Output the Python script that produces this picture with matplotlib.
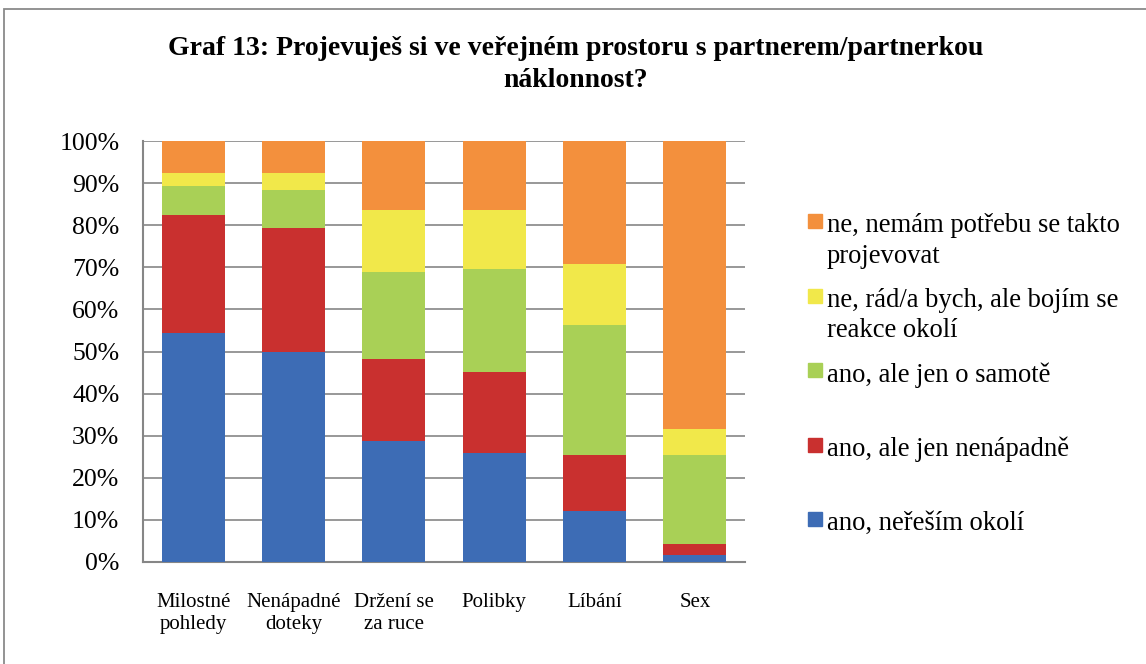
import matplotlib
matplotlib.use("Agg")
import matplotlib.pyplot as plt
from matplotlib.patches import Rectangle
import numpy as np

plt.rcParams['font.family'] = ['Liberation Serif', 'DejaVu Serif']

categories = ["Milostné\npohledy", "Nenápadné\ndoteky", "Držení se\nza ruce",
              "Polibky", "Líbání", "Sex"]
series_names = ["ano, neřeším okolí",
                "ano, ale jen nenápadně",
                "ano, ale jen o samotě",
                "ne, rád/a bych, ale bojím se\nreakce okolí",
                "ne, nemám potřebu se takto\nprojevovat"]
ano_neresim = [54.3, 50.0, 28.8, 25.8, 12.2, 1.7]
ano_nenapadne = [28.2, 29.4, 19.4, 19.3, 13.3, 2.5]
ano_samote = [6.8, 8.9, 20.7, 24.6, 30.7, 21.1]
ne_bojim = [3.0, 4.0, 14.7, 14.0, 14.7, 6.3]
ne_potreba = [7.7, 7.7, 16.4, 16.3, 29.1, 68.4]
series = [ano_neresim, ano_nenapadne, ano_samote, ne_bojim, ne_potreba]
colors = ["#3D6CB5", "#C9302F", "#A9D056", "#F1E84A", "#F3903D"]
yticks = [0, 10, 20, 30, 40, 50, 60, 70, 80, 90, 100]
title = "Graf 13: Projevuješ si ve veřejném prostoru s partnerem/partnerkou\nnáklonnost?"

W, H = 1146, 664
fig = plt.figure(figsize=(W / 100, H / 100), dpi=100)

# outer border
fig.add_artist(Rectangle((4 / W, -0.1), 1.2, (H - 9) / H + 0.1, transform=fig.transFigure,
                         fill=False, edgecolor="#8a8a8a", linewidth=1.3))

ax = fig.add_axes([143 / W, (H - 562) / H, 602 / W, 421 / H])
x = np.arange(len(categories))
bottom = np.zeros(len(categories))
for vals, c in zip(series, colors):
    v = np.array(vals)
    ax.bar(x, v, 0.63, bottom=bottom, color=c, zorder=3)
    bottom += v

ax.set_xlim(-0.5, len(categories) - 0.5)
ax.set_ylim(0, 100)
ax.set_yticks(yticks)
ax.set_yticklabels([f"{t}%" for t in yticks], fontsize=18.5)
ax.set_xticks(x)
ax.set_xticklabels(categories, fontsize=15, linespacing=1.22)
ax.tick_params(axis='both', length=0)
ax.tick_params(axis='y', pad=17)
ax.tick_params(axis='x', pad=22)
ax.yaxis.grid(True, color="#868686", linewidth=1.2, zorder=0)
for s in ["top", "right"]:
    ax.spines[s].set_visible(False)
for s in ["left", "bottom"]:
    ax.spines[s].set_color("#868686")
    ax.spines[s].set_linewidth(1.5)

fig.text(576 / W, 1 - 64.5 / H, title, ha="center", va="center", fontsize=20,
         fontweight="bold", linespacing=1.42)

# legend (top entry first)
for i, k in enumerate(range(len(series_names) - 1, -1, -1)):
    ytop = 221 + 74.6 * i
    fig.add_artist(Rectangle((808 / W, 1 - (ytop + 7) / H), 14 / W, 14 / H,
                             transform=fig.transFigure, color=colors[k]))
    fig.text(827 / W, 1 - (ytop - 8) / H, series_names[k], ha="left", va="top",
             fontsize=19.2, linespacing=1.3)

fig.savefig("out.png", dpi=100)
